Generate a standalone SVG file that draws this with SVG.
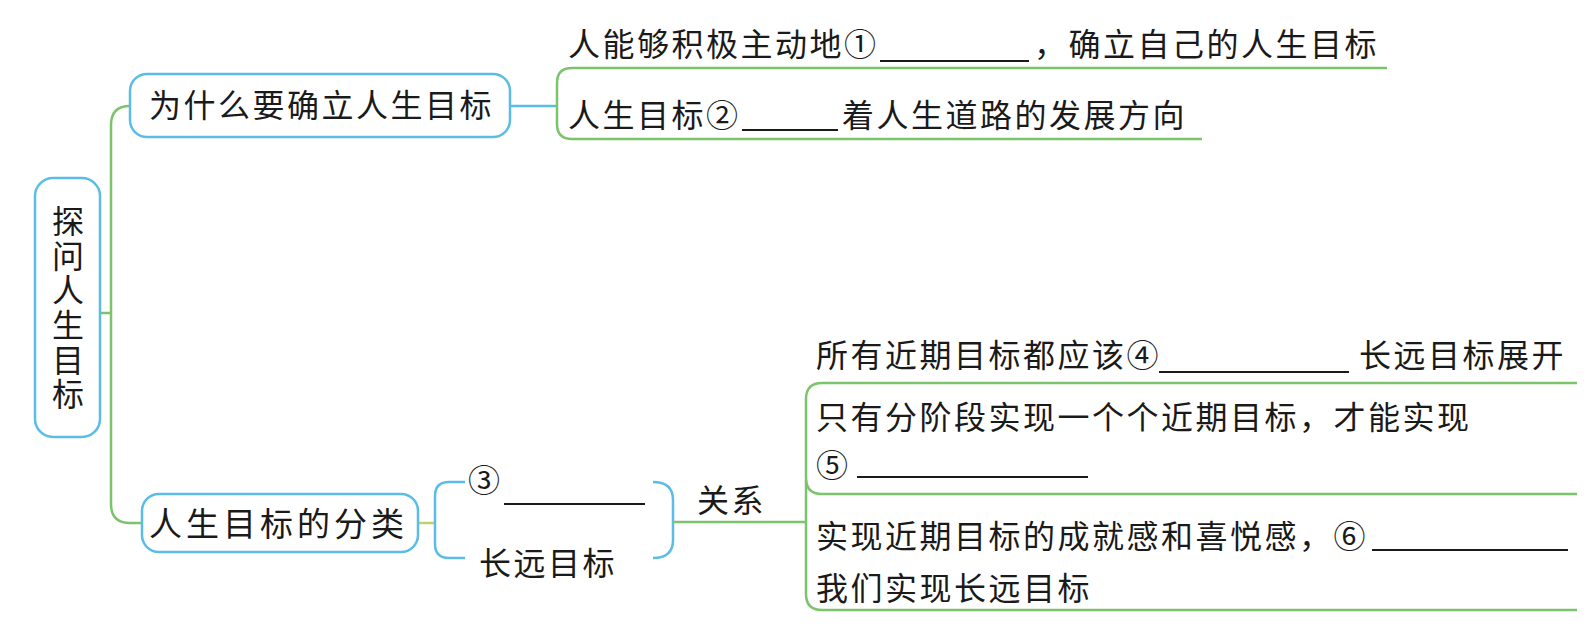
<svg xmlns="http://www.w3.org/2000/svg" width="1590" height="643" viewBox="0 0 1590 643">
<style>
text{font-family:"Noto Sans CJK SC","Noto Sans",sans-serif;font-size:32px;letter-spacing:2.5px;fill:#1a1a1a}
.node{fill:#fff;stroke:#5bbde6;stroke-width:2.5}
.g{fill:none;stroke:#7cc46c;stroke-width:2.5}
.b{fill:none;stroke:#5bbde6;stroke-width:2.5}
.y{fill:none;stroke:#b8d565;stroke-width:2.5}
.blank{stroke:#1a1a1a;stroke-width:2}
</style>
<rect width="1590" height="643" fill="#fff"/>
<g id="connectors">
<path class="g" d="M100 313 H111"/>
<path class="g" d="M130 106 Q111 106 111 125 V504 Q111 523 130 523 H142"/>
<path class="b" d="M510 106 H557"/>
<path class="g" d="M1387 68 H572 Q557 68 557 83 V124 Q557 139 572 139 H1202"/>
<path class="y" d="M418 523 H435"/>
<path class="b" d="M465 482 H449 Q435 482 435 496 V544 Q435 558 449 558 H465"/>
<path class="b" d="M653 482 Q673 482 673 500 V540 Q673 558 653 558"/>
<path class="g" d="M673 522 H806"/>
<path class="g" d="M1577 383 H822 Q806 383 806 399 V478 Q806 494 822 494 H1577"/>
<path class="g" d="M806 480 V594 Q806 610 822 610 H1577"/>
</g>
<g id="root">
<rect class="node" x="35" y="178" width="65" height="259" rx="18"/>
<text x="68" y="205" writing-mode="vertical-rl" style="letter-spacing:2.6px">探问人生目标</text>
</g>
<g id="node-why">
<rect class="node" x="130" y="74" width="380" height="63" rx="17"/>
<text x="149" y="117">为什么要确立人生目标</text>
</g>
<g id="node-class">
<rect class="node" x="142" y="494" width="276" height="58" rx="17"/>
<text x="149" y="536" style="font-size:33px;letter-spacing:4px">人生目标的分类</text>
</g>
<g id="why-1">
<text x="568" y="56">人能够积极主动地①</text>
<line class="blank" x1="880" y1="61" x2="1029" y2="61"/>
<text x="1034" y="56">，确立自己的人生目标</text>
</g>
<g id="why-2">
<text x="568" y="127">人生目标②</text>
<line class="blank" x1="742" y1="130" x2="838" y2="130"/>
<text x="842" y="127">着人生道路的发展方向</text>
</g>
<g id="short">
<text x="468" y="492" style="letter-spacing:0">③</text>
<line class="blank" x1="504" y1="504" x2="645" y2="504"/>
</g>
<g id="long">
<text x="479" y="575">长远目标</text>
</g>
<g id="relation">
<text x="697" y="512">关系</text>
</g>
<g id="rel-1">
<text x="816" y="367">所有近期目标都应该④</text>
<line class="blank" x1="1159" y1="372" x2="1349" y2="372"/>
<text x="1359" y="367">长远目标展开</text>
</g>
<g id="rel-2">
<text x="816" y="429">只有分阶段实现一个个近期目标，才能实现</text>
<text x="816" y="477">⑤</text>
<line class="blank" x1="857" y1="477" x2="1088" y2="477"/>
</g>
<g id="rel-3">
<text x="816" y="548">实现近期目标的成就感和喜悦感，⑥</text>
<line class="blank" x1="1372" y1="550" x2="1568" y2="550"/>
<text x="816" y="600">我们实现长远目标</text>
</g>
</svg>
